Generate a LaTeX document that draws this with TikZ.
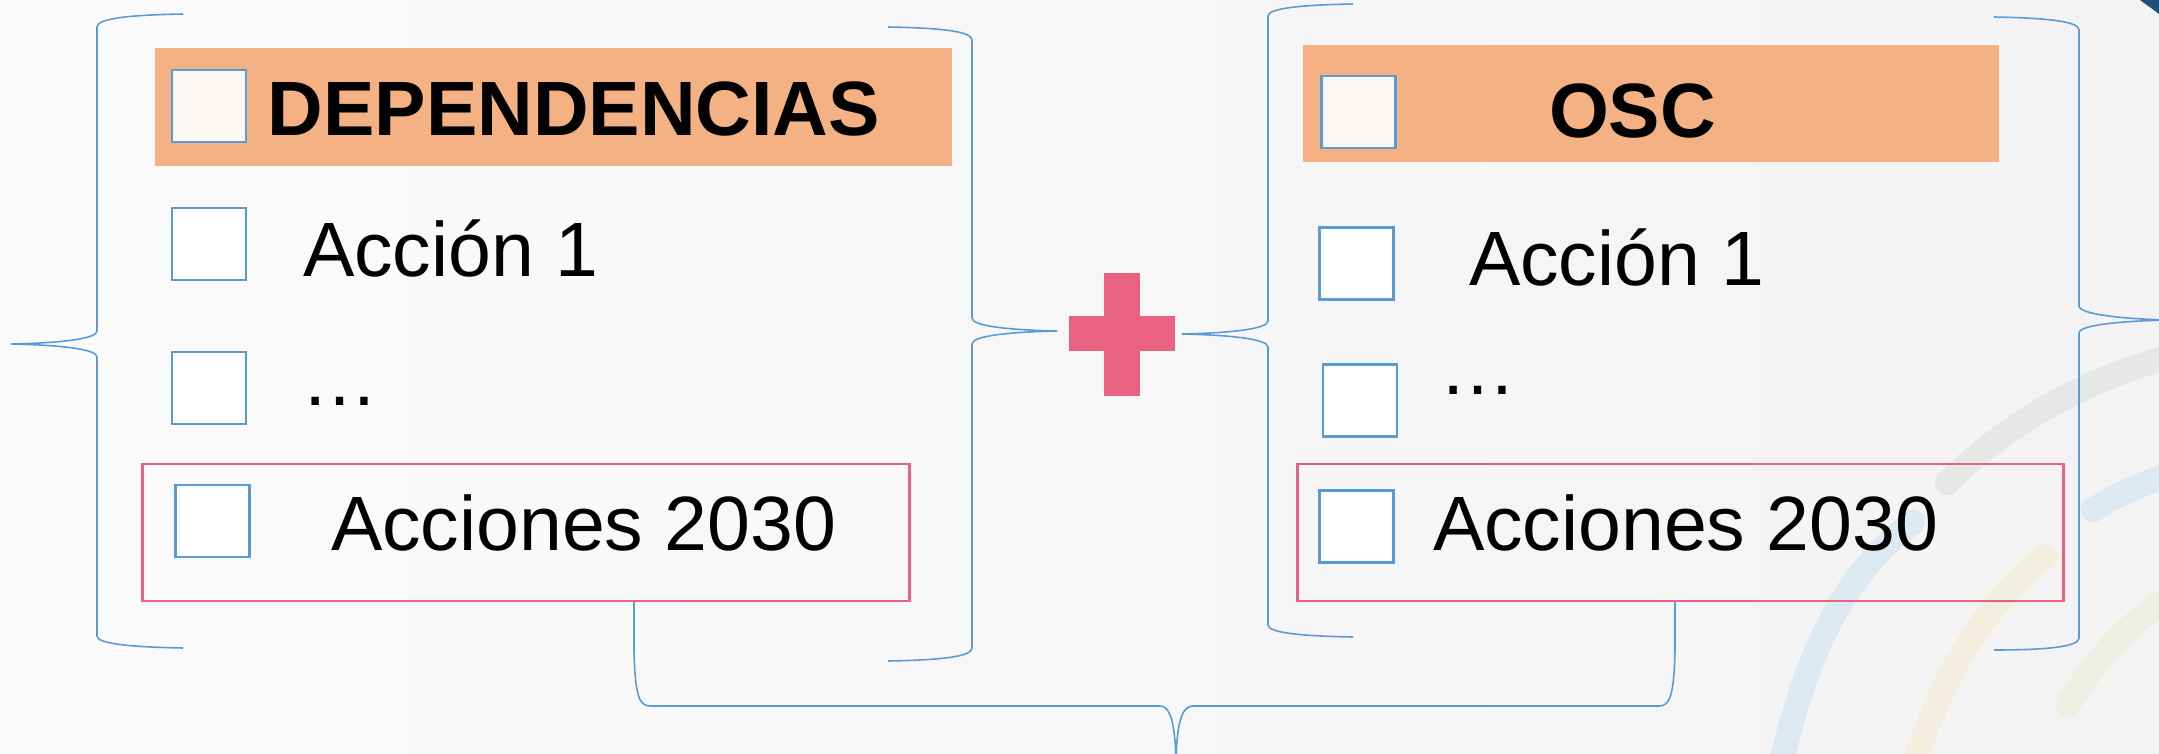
\documentclass[tikz,border=0pt]{standalone}
\usepackage{fontspec}
\setmainfont{Liberation Sans}
\usetikzlibrary{positioning}
\definecolor{braceblue}{HTML}{5B9BD5}
\definecolor{headorange}{HTML}{F4B183}
\definecolor{rosered}{HTML}{EA6282}
\definecolor{cream}{HTML}{FCF7F2}
\definecolor{deepblue}{HTML}{1F4E79}
\definecolor{bgleft}{HTML}{FBFBFB}
\definecolor{bgright}{HTML}{F3F3F3}
\definecolor{sageswoosh}{HTML}{E5E8E4}
\definecolor{skyswoosh}{HTML}{DDE9F1}
\definecolor{sandswoosh}{HTML}{F3EEDD}
\definecolor{paleswoosh}{HTML}{EFEEE3}

\begin{document}
\begin{tikzpicture}[x=0.01cm, y=-0.01cm, thick]
\tikzstyle{every node} = [inner sep=0cm, outer sep=0cm]
\tikzstyle{headbar} = [rectangle, fill=headorange]
\tikzstyle{tickbox} = [rectangle, draw=braceblue, line width=0.7pt, fill=white, minimum width=0.74cm, minimum height=0.72cm]
\tikzstyle{goalbox} = [rectangle, draw=rosered, line width=0.75pt]
\tikzstyle{plusbar} = [rectangle, fill=rosered]
\tikzstyle{txt} = [anchor=base west, font=\fontsize{21.9}{26}\selectfont]
\tikzstyle{bold txt} = [txt, font=\fontsize{21.9}{26}\selectfont\bfseries]
\tikzstyle{brace} = [draw=braceblue, line width=0.45pt]
\tikzstyle{swoosh} = [line width=7pt, line cap=round]

% background
\useasboundingbox (0,0) rectangle (2159,754);
\shade[left color=bgleft, right color=bgright] (0,0) rectangle (2159,754);
\draw[swoosh, color=sageswoosh] (1947,483) .. controls (2010,420) and (2090,378) .. (2175,355);
\draw[swoosh, color=skyswoosh] (1782,760) .. controls (1810,640) and (1850,570) .. (1913,522);
\draw[swoosh, color=skyswoosh] (2093,510) .. controls (2115,495) and (2140,485) .. (2175,472);
\draw[swoosh, color=sandswoosh] (1915,760) .. controls (1950,660) and (1990,600) .. (2045,557);
\draw[swoosh, color=paleswoosh] (2068,705) .. controls (2095,660) and (2125,625) .. (2170,598);
\fill[deepblue] (2140,0) .. controls (2148,6) and (2154,10) .. (2159,14) -- (2159,0) -- cycle;

% DEPENDENCIAS
\node[headbar, minimum width=7.97cm, minimum height=1.18cm] (depHead) at (553.5,107) {};
\node[tickbox, fill=cream] (depHeadBox) at (209,106) {};
\node[bold txt] (depTitle) at (268,135) {DEPENDENCIAS};
\node[tickbox] (depBox1) at (209,244) {};
\node[txt] (depAct1) at (303,276) {Acción 1};
\node[tickbox] (depBox2) at (209,388) {};
\node[txt] (depDots) at (301,405) {…};
\node[goalbox, minimum width=7.66cm, minimum height=1.37cm] (depGoal) at (526,532.5) {};
\node[tickbox] (depBox3) at (212.5,521) {};
\node[txt] (depAct2030) at (331,550) {Acciones 2030};

% OSC
\node[headbar, minimum width=6.96cm, minimum height=1.17cm] (oscHead) at (1651,103.5) {};
\node[tickbox, fill=cream] (oscHeadBox) at (1358.5,112) {};
\node[bold txt] (oscTitle) at (1549,137) {OSC};
\node[tickbox] (oscBox1) at (1356.5,263.5) {};
\node[txt] (oscAct1) at (1469,285) {Acción 1};
\node[tickbox] (oscBox2) at (1360,400.5) {};
\node[txt] (oscDots) at (1439,394) {…};
\node[goalbox, minimum width=7.65cm, minimum height=1.37cm] (oscGoal) at (1680.5,532.5) {};
\node[tickbox] (oscBox3) at (1356.5,526.5) {};
\node[txt] (oscAct2030) at (1433,550) {Acciones 2030};

% plus
\node[plusbar, minimum width=0.36cm, minimum height=1.23cm] (plusV) at (1122,334.5) {};
\node[plusbar, minimum width=1.06cm, minimum height=0.35cm] (plusH) at (1122,333.5) {};

% braces
\draw[brace] (183,14) .. controls (125,15) and (97,19) .. (97,27) -- (97,331)
	.. controls (97,339) and (60,343) .. (11,344)
	.. controls (60,345) and (97,349) .. (97,357) -- (97,636)
	.. controls (97,643) and (125,647) .. (183,648);
\draw[brace] (888,27) .. controls (946,28) and (972,32) .. (972,40) -- (972,318)
	.. controls (972,326) and (1008,330) .. (1057,331)
	.. controls (1008,332) and (972,336) .. (972,344) -- (972,648)
	.. controls (972,656) and (946,660) .. (888,661);
\draw[brace] (1353,4) .. controls (1295,5) and (1268,9) .. (1268,16) -- (1268,321)
	.. controls (1268,329) and (1230,333) .. (1182,334)
	.. controls (1230,335) and (1268,339) .. (1268,347) -- (1268,625)
	.. controls (1268,632) and (1295,636) .. (1353,637);
\draw[brace] (1994,17) .. controls (2052,18) and (2079,22) .. (2079,30) -- (2079,306)
	.. controls (2079,314) and (2120,319) .. (2170,320)
	.. controls (2120,321) and (2079,325) .. (2079,333) -- (2079,638)
	.. controls (2079,646) and (2052,650) .. (1994,650);

\coordinate (joinL) at (depGoal.south -| 634,0);
\coordinate (joinR) at (oscGoal.south -| 1675,0);
\draw[brace] (joinL) -- (634,650) .. controls (635,695) and (639,706) .. (650,706) -- (1160,706)
	.. controls (1170,706) and (1175,722) .. (1176,760)
	.. controls (1177,722) and (1182,706) .. (1193,706) -- (1659,706)
	.. controls (1670,706) and (1674,695) .. (1675,650) -- (joinR);
\end{tikzpicture}
\end{document}
